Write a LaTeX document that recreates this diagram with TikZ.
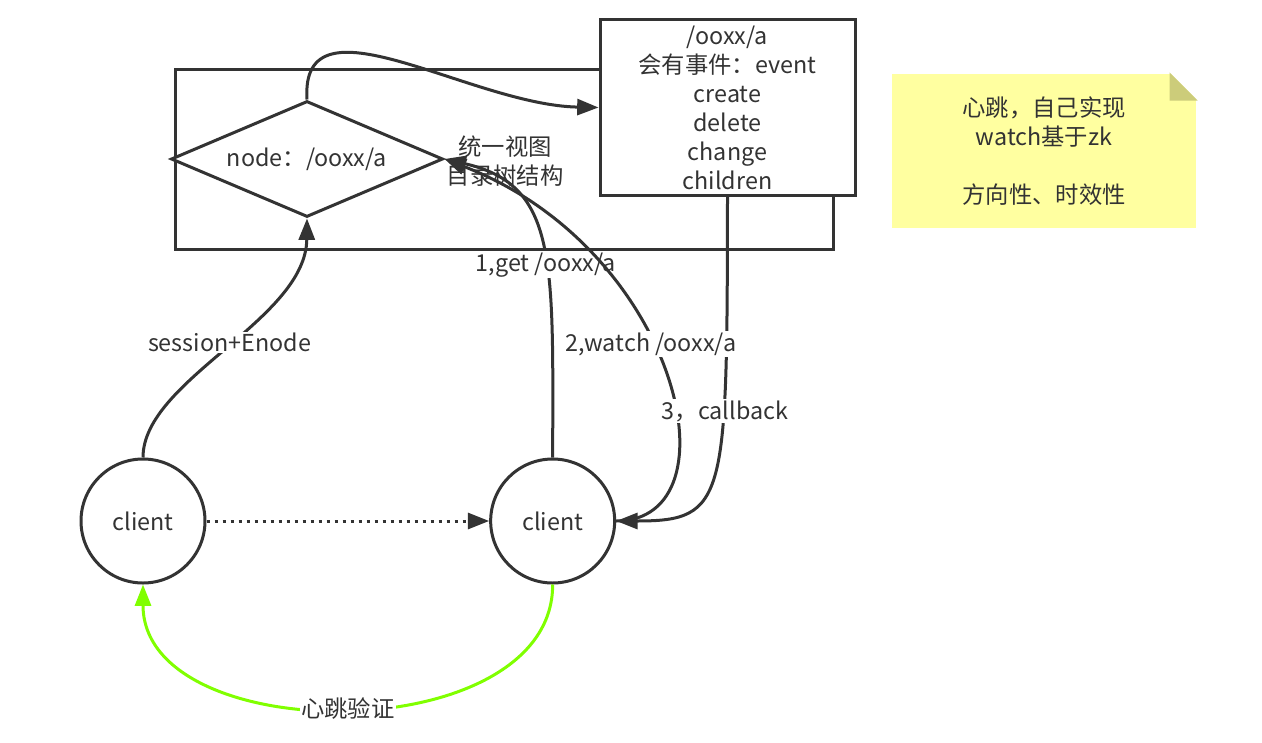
\documentclass[tikz,border=0pt]{standalone}
\usepackage{fontspec}
\setmainfont{Noto Sans CJK SC}
\usetikzlibrary{arrows.meta,positioning,shapes.geometric}
\definecolor{ink}{HTML}{333333}
\definecolor{beat}{HTML}{80FF00}
\definecolor{memo}{HTML}{FFFFA0}
\definecolor{memofold}{HTML}{CCCC7A}

\begin{document}
\begin{tikzpicture}[
  x=0.75pt, y=-0.75pt,
  font=\fontsize{17.5}{21.75}\selectfont,
  text=ink,
  line width=2.25pt,
  tree/.style={
    draw=ink,
    inner sep=0pt,
    minimum width=493.5pt,
    minimum height=134.25pt
  },
  znode/.style={
    diamond,
    draw=ink,
    fill=white,
    aspect=2.3,
    inner sep=1pt,
    minimum width=204pt,
    minimum height=87pt
  },
  evbox/.style={
    draw=ink,
    fill=white,
    align=center,
    inner sep=0pt,
    minimum width=191.25pt,
    minimum height=131.25pt
  },
  memo/.style={
    fill=memo,
    align=center,
    minimum width=228pt,
    minimum height=115.5pt
  },
  client/.style={circle, draw=ink, fill=white, inner sep=0pt, minimum size=93pt},
  lbl/.style={fill=white, text=ink, inner sep=1pt},
  conn/.style={draw=ink, -{Triangle[length=16pt,width=12pt]}}
]
\useasboundingbox (0,0) rectangle (1262,742);

\node[tree] (zk) at (504,159.5) {};
\node[znode] (node) at (307,159) {node：/ooxx/a};
\node[evbox] (events) at (727.5,107.5)
  {/ooxx/a\\会有事件：event\\create\\delete\\change\\children};
\node[memo] (note) at (1044,151)
  {心跳，自己实现\\watch基于zk\\[21.75pt]方向性、时效性};
\fill[white] (note.north east) -- ++(-28,0) -- ++(28,28) -- cycle;
\fill[memofold] (note.north east) ++(-28,0) -- ++(0,28) -- ++(28,0) -- cycle;
\node[align=center] (view) at (505,161) {统一视图\\目录树结构};

\node[client] (cli1) at (143,521) {client};
\node[client, right=212pt of cli1] (cli2) {client};

\draw[conn] (node.north) .. controls (300,-10) and (470,105) .. (events.west);
\draw[conn] (cli1.north) .. controls (143,380) and (306,320) .. (node.south)
  node[lbl, pos=0.52] (sess) {session+Enode};
\draw[conn] (cli2.north) .. controls (553,260) and (558,185) .. (node.east)
  node[lbl, pos=0.43] (get) {1,get /ooxx/a};
\draw[conn] (cli2.east) .. controls (740,521) and (680,250) .. (node.east);
\draw[conn] (events.south) .. controls (727,500) and (727,521) .. (cli2.east);
\node[lbl] (watch) at (651,344) {2,watch /ooxx/a};
\node[lbl] (callback) at (725,411) {3，callback};

\draw[conn, dash pattern=on 2.25pt off 3.75pt] (cli1) -- (cli2);
\draw[beat, -{Triangle[length=16pt,width=12pt]}]
  (cli2.south) .. controls (553,750) and (143,750) .. (cli1.south)
  node[lbl, pos=0.5] (hb) {心跳验证};

\end{tikzpicture}
\end{document}
